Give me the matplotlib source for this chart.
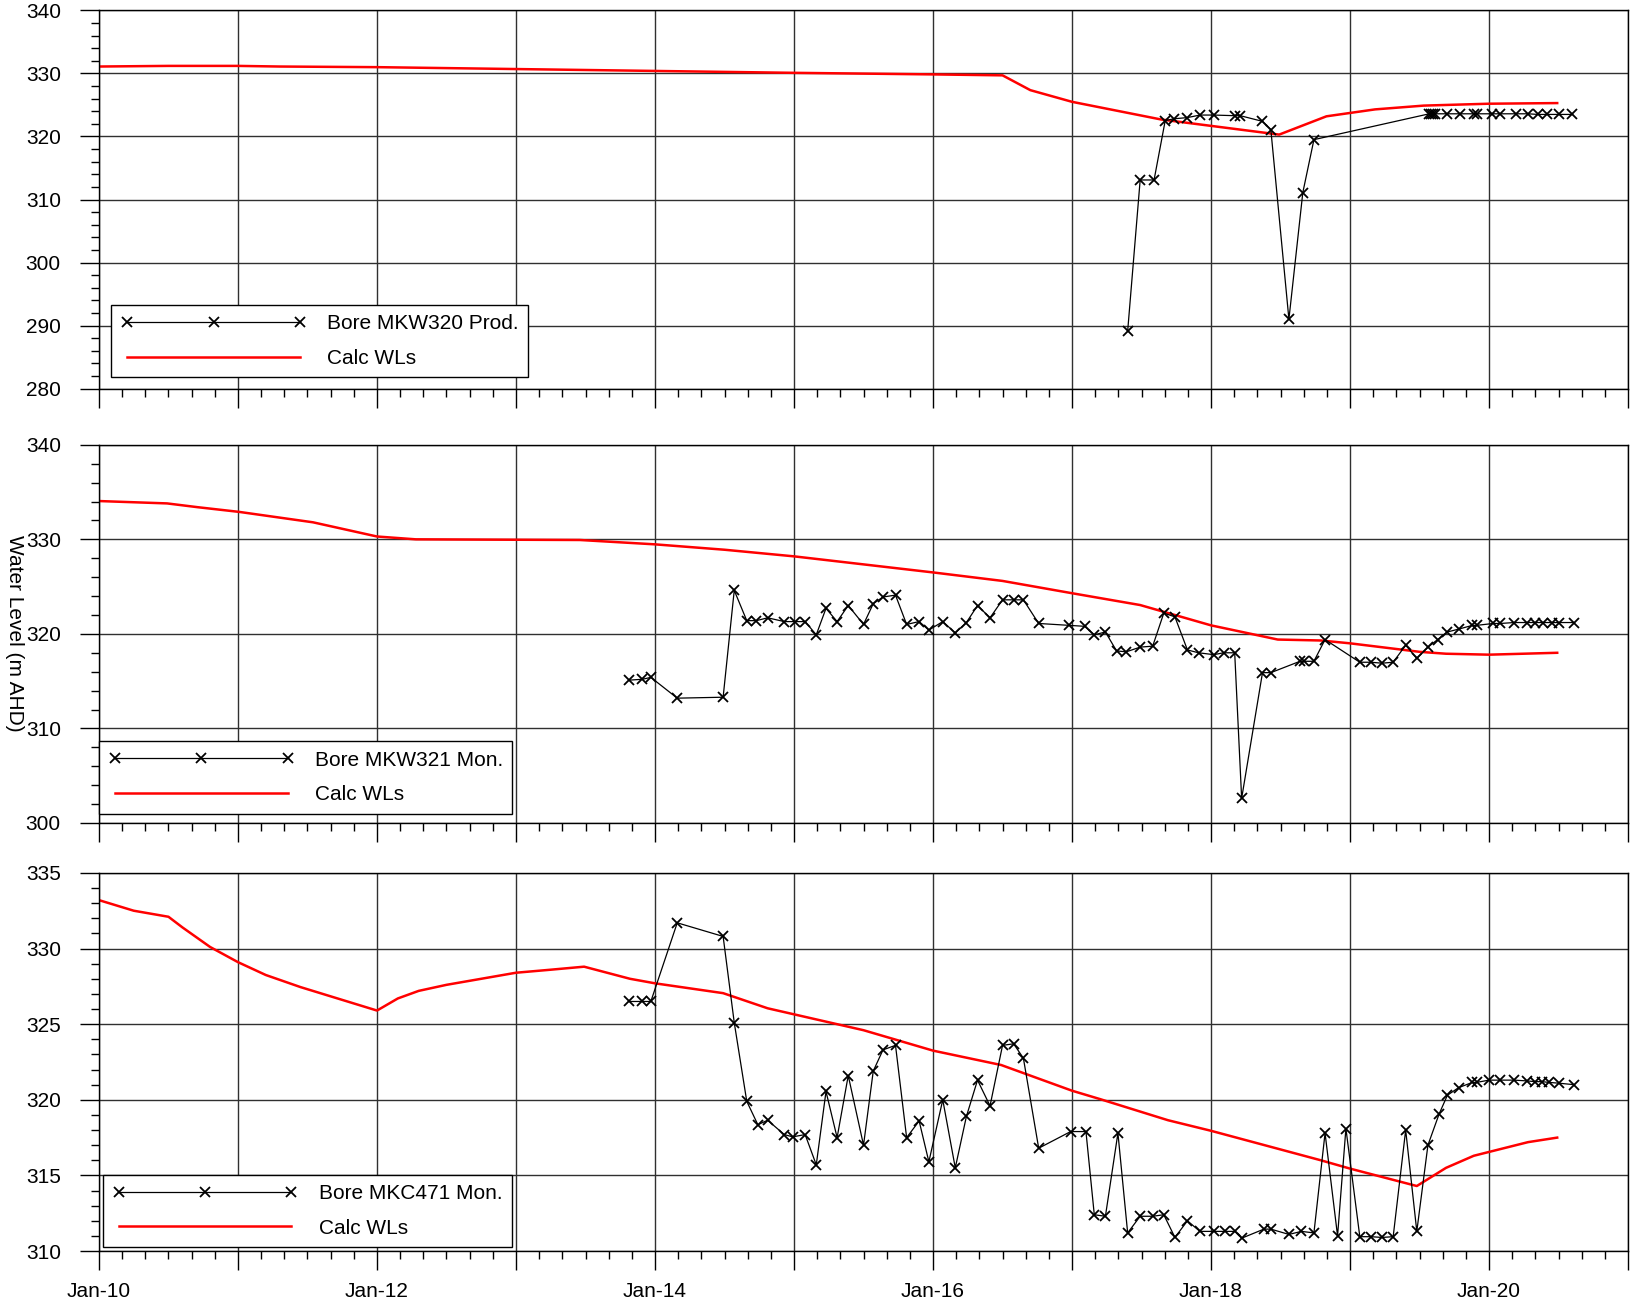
import matplotlib
matplotlib.use("Agg")
import matplotlib.pyplot as plt
from matplotlib.ticker import MultipleLocator, FuncFormatter

plt.rcParams['font.family'] = ['Liberation Sans', 'DejaVu Sans']
plt.rcParams['font.size'] = 15

# ---------------- Panel 1 : Bore MKW320 Prod. ----------------
p1_obs_t = [2017.40, 2017.49, 2017.59, 2017.67, 2017.73, 2017.83, 2017.92, 2018.02,
            2018.17, 2018.21, 2018.37, 2018.43, 2018.56, 2018.66, 2018.74,
            2019.57, 2019.58, 2019.60, 2019.61, 2019.70, 2019.79, 2019.89, 2019.91,
            2020.02, 2020.08, 2020.19, 2020.28, 2020.35, 2020.42, 2020.50, 2020.60]
p1_obs_v = [289.1, 313.1, 313.1, 322.5, 322.8, 323.0, 323.4, 323.4,
            323.3, 323.3, 322.4, 321.1, 291.0, 311.1, 319.5,
            323.6, 323.6, 323.6, 323.6, 323.6, 323.6, 323.6, 323.6,
            323.6, 323.6, 323.6, 323.6, 323.5, 323.5, 323.5, 323.5]
p1_calc_t = [2010.0, 2010.5, 2011.0, 2011.3, 2012.0, 2013.0, 2014.0, 2015.0, 2016.0,
             2016.5, 2016.7, 2017.0, 2017.64, 2018.49, 2018.83, 2019.18, 2019.53,
             2020.0, 2020.49]
p1_calc_v = [331.1, 331.2, 331.2, 331.1, 331.0, 330.7, 330.4, 330.1, 329.85,
             329.7, 327.35, 325.5, 322.7, 320.3, 323.2, 324.3, 324.9,
             325.2, 325.3]

# ---------------- Panel 2 : Bore MKW321 Mon. ----------------
p2_obs_t = [2013.81, 2013.91, 2013.97, 2014.16, 2014.49, 2014.57, 2014.66, 2014.73,
            2014.81, 2014.93, 2015.01, 2015.08, 2015.16, 2015.23, 2015.31, 2015.39,
            2015.50, 2015.57, 2015.64, 2015.73, 2015.81, 2015.90, 2015.97, 2016.07,
            2016.16, 2016.24, 2016.32, 2016.41, 2016.50, 2016.58, 2016.65, 2016.76,
            2016.98, 2017.09, 2017.16, 2017.24, 2017.32, 2017.39, 2017.49, 2017.58,
            2017.66, 2017.74, 2017.83, 2017.91, 2018.02, 2018.09, 2018.17, 2018.22,
            2018.37, 2018.43, 2018.64, 2018.67, 2018.74, 2018.82, 2019.07, 2019.15,
            2019.23, 2019.31, 2019.40, 2019.48, 2019.56, 2019.63, 2019.70, 2019.78,
            2019.88, 2019.91, 2020.03, 2020.08, 2020.18, 2020.27, 2020.33, 2020.39,
            2020.45, 2020.50, 2020.61]
p2_obs_v = [315.1, 315.2, 315.4, 313.2, 313.3, 324.6, 321.4, 321.4,
            321.7, 321.3, 321.3, 321.3, 319.9, 322.7, 321.3, 323.0,
            321.0, 323.2, 323.9, 324.1, 321.0, 321.3, 320.4, 321.3,
            320.1, 321.2, 323.0, 321.7, 323.6, 323.6, 323.6, 321.1,
            320.9, 320.8, 319.9, 320.2, 318.2, 318.1, 318.6, 318.7,
            322.2, 321.8, 318.3, 318.0, 317.8, 318.0, 318.0, 302.6,
            315.9, 315.9, 317.1, 317.1, 317.1, 319.4, 317.0, 317.0,
            316.9, 317.0, 318.8, 317.4, 318.6, 319.4, 320.2, 320.5,
            320.9, 320.9, 321.1, 321.1, 321.2, 321.2, 321.2, 321.2,
            321.2, 321.2, 321.2]
p2_calc_t = [2010.0, 2010.49, 2010.71, 2011.01, 2011.54, 2012.0, 2012.28, 2013.46,
             2014.0, 2014.5, 2015.0, 2016.0, 2016.5, 2017.0, 2017.49, 2018.0,
             2018.48, 2018.79, 2019.0, 2019.5, 2019.69, 2020.0, 2020.49]
p2_calc_v = [334.05, 333.8, 333.4, 332.9, 331.8, 330.3, 330.0, 329.93,
             329.47, 328.9, 328.2, 326.5, 325.6, 324.3, 323.05, 320.9,
             319.4, 319.3, 319.0, 318.1, 317.9, 317.8, 318.0]

# ---------------- Panel 3 : Bore MKC471 Mon. ----------------
p3_obs_t = [2013.81, 2013.91, 2013.97, 2014.16, 2014.49, 2014.57, 2014.66, 2014.74,
            2014.81, 2014.93, 2014.99, 2015.08, 2015.16, 2015.23, 2015.31, 2015.39,
            2015.50, 2015.57, 2015.64, 2015.73, 2015.81, 2015.90, 2015.97, 2016.07,
            2016.16, 2016.24, 2016.32, 2016.41, 2016.50, 2016.58, 2016.65, 2016.76,
            2016.99, 2017.10, 2017.16, 2017.24, 2017.33, 2017.40, 2017.49, 2017.58,
            2017.66, 2017.74, 2017.83, 2017.92, 2018.02, 2018.10, 2018.17, 2018.22,
            2018.38, 2018.43, 2018.56, 2018.65, 2018.74, 2018.82, 2018.91, 2018.97,
            2019.07, 2019.15, 2019.23, 2019.31, 2019.40, 2019.48, 2019.56, 2019.64,
            2019.70, 2019.78, 2019.88, 2019.91, 2020.00, 2020.08, 2020.18, 2020.27,
            2020.33, 2020.38, 2020.43, 2020.50, 2020.61]
p3_obs_v = [326.5, 326.5, 326.5, 331.7, 330.8, 325.1, 319.9, 318.35,
            318.65, 317.7, 317.55, 317.7, 315.7, 320.55, 317.5, 321.6,
            317.0, 321.9, 323.3, 323.6, 317.5, 318.6, 315.9, 320.0,
            315.5, 318.9, 321.3, 319.6, 323.6, 323.7, 322.75, 316.8,
            317.9, 317.9, 312.4, 312.3, 317.8, 311.2, 312.3, 312.3,
            312.4, 310.9, 312.0, 311.3, 311.3, 311.3, 311.3, 310.85,
            311.45, 311.45, 311.1, 311.3, 311.2, 317.8, 311.0, 318.1,
            310.95, 310.95, 310.9, 310.95, 318.0, 311.3, 317.0, 319.05,
            320.3, 320.8, 321.15, 321.15, 321.3, 321.3, 321.3, 321.25,
            321.2, 321.2, 321.15, 321.1, 321.0]
p3_calc_t = [2010.0, 2010.25, 2010.5, 2010.6, 2010.8, 2011.0, 2011.2, 2011.45, 2012.0,
             2012.15, 2012.3, 2012.5, 2013.0, 2013.25, 2013.49, 2013.82, 2014.0,
             2014.49, 2014.81, 2015.0, 2015.5, 2016.0, 2016.49, 2017.0, 2017.2,
             2017.69, 2018.0, 2018.79, 2019.0, 2019.48, 2019.69, 2019.89, 2020.28,
             2020.49]
p3_calc_v = [333.2, 332.5, 332.1, 331.4, 330.1, 329.1, 328.25, 327.45, 325.9,
             326.7, 327.2, 327.6, 328.4, 328.6, 328.8, 328.0, 327.7,
             327.05, 326.05, 325.65, 324.6, 323.25, 322.3, 320.6, 320.05,
             318.65, 317.95, 316.0, 315.45, 314.3, 315.5, 316.3, 317.2,
             317.5]

panels = [
    dict(t=p1_obs_t, v=p1_obs_v, ct=p1_calc_t, cv=p1_calc_v, label="Bore MKW320 Prod.",
         ylim=(280, 340), major=10, minor=2, leg=(0.0082, 0.030)),
    dict(t=p2_obs_t, v=p2_obs_v, ct=p2_calc_t, cv=p2_calc_v, label="Bore MKW321 Mon.",
         ylim=(300, 340), major=10, minor=2, leg=(0.0, 0.025)),
    dict(t=p3_obs_t, v=p3_obs_v, ct=p3_calc_t, cv=p3_calc_v, label="Bore MKC471 Mon.",
         ylim=(310, 335), major=5, minor=1, leg=(0.0026, 0.011)),
]

fig = plt.figure(figsize=(16.33, 13.04), dpi=100)
left, width = 0.0606, 0.9364
bottoms = [0.702, 0.3689, 0.0406]
height = 0.290

def xfmt(x, pos):
    y = int(round(x))
    if y % 2 == 0:
        return "Jan-%02d" % (y % 100)
    return ""

for i, p in enumerate(panels):
    ax = fig.add_axes([left, bottoms[i], width, height])
    ax.plot(p['t'], p['v'], color='black', lw=0.9, marker='x', ms=7, mew=1.3,
            label=p['label'], zorder=3)
    ax.plot(p['ct'], p['cv'], color='#ff0000', lw=1.8, label='Calc WLs', zorder=2)
    ax.set_xlim(2010, 2021)
    ax.set_ylim(*p['ylim'])
    ax.xaxis.set_major_locator(MultipleLocator(1))
    ax.xaxis.set_minor_locator(MultipleLocator(1 / 6))
    ax.yaxis.set_major_locator(MultipleLocator(p['major']))
    ax.yaxis.set_minor_locator(MultipleLocator(p['minor']))
    ax.grid(True, which='major', color='#303030', lw=1.0)
    ax.set_axisbelow(True)
    ax.tick_params(axis='both', which='major', direction='out', length=13.5, width=1.0,
                   labelsize=15)
    ax.tick_params(axis='y', which='major', pad=14)
    ax.tick_params(axis='x', which='major', pad=9)
    ax.tick_params(axis='both', which='minor', direction='out', length=5.5, width=1.0)
    for s in ax.spines.values():
        s.set_color('black')
        s.set_linewidth(1.0)
    if i == 2:
        ax.xaxis.set_major_formatter(FuncFormatter(xfmt))
    else:
        ax.tick_params(axis='x', labelbottom=False)
    leg = ax.legend(loc='lower left', bbox_to_anchor=p['leg'], borderaxespad=0,
                    numpoints=3, handlelength=8.9, handletextpad=1.0, fancybox=False,
                    framealpha=1, edgecolor='black', fontsize=15, labelspacing=0.75,
                    borderpad=0.45)
    leg.get_frame().set_linewidth(1.0)
    leg.set_zorder(5)

fig.text(0.009, 0.514, "Water Level (m AHD)", rotation=270, ha='center', va='center',
         fontsize=15)

fig.savefig("out.png", dpi=100)
